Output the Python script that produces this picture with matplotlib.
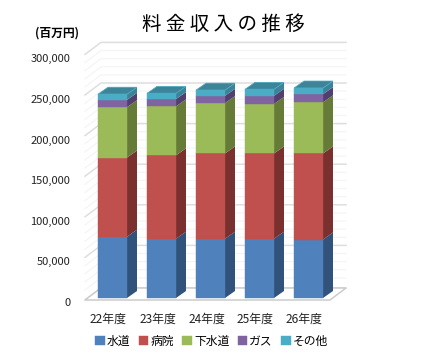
import numpy as np
import matplotlib
matplotlib.use("Agg")
import matplotlib.pyplot as plt
from matplotlib.transforms import ScaledTranslation

plt.rcParams['font.family'] = ['Noto Sans CJK JP', 'DejaVu Sans']

# Values (million yen)
years = ['22年度', '23年度', '24年度', '25年度', '26年度']
water = [75500, 73000, 73000, 73000, 72000]
hospital = [97500, 102700, 105000, 105000, 106000]
sewer = [62000, 60300, 62000, 61000, 63000]
gas = [9000, 9000, 9000, 10000, 10000]
other = [7000, 7000, 7000, 8000, 7600]

series_names = ['水道', '病院', '下水道', 'ガス', 'その他']
series_values = [water, hospital, sewer, gas, other]
front_colors = ['#4F81BD', '#C0504D', '#9BBB59', '#8064A2', '#4BACC6']
side_colors = ['#31527A', '#7A302E', '#667B38', '#533F6F', '#3A8499']
top_color = '#3D8499'

W, H = 448, 364
PX_X = 49.0  # pixels per category
PX_Y = 40.6 / 50000  # pixels per value unit

fig = plt.figure(figsize=(W / 100, H / 100), dpi=100)
ax = fig.add_axes([85 / W, (H - 298) / H, 245 / W, 243.6 / H])
ax.set_xlim(-27.5 / PX_X, 217.5 / PX_X)
ax.set_ylim(0, 300000)
for s in ax.spines.values():
    s.set_visible(False)

# depth of the walls and of the bars, in data units
wall_dx, wall_dy = 16 / PX_X, 12 / PX_Y
bar_dx, bar_dy = 10 / PX_X, 7 / PX_Y
x0, x1 = ax.get_xlim()
floor_y = -2 / PX_Y

# back wall and left wall grid
for v in np.arange(0, 300001, 10000):
    major = v % 50000 == 0
    col = '#dedede' if major else '#f5f5f5'
    lw = 1.1 if major else 0.9
    y = v + (floor_y if v == 0 else 0)
    ax.plot([x0, x0 + wall_dx, x1 + wall_dx], [y, y + wall_dy, y + wall_dy],
            color=col, lw=lw, clip_on=False, zorder=1 if major else 0.9, solid_joinstyle='miter')

# floor
ax.fill([x0, x1, x1 + wall_dx, x0 + wall_dx],
        [floor_y, floor_y, floor_y + wall_dy, floor_y + wall_dy],
        facecolor='white', edgecolor='#cccccc', lw=1.1, clip_on=False, zorder=2)

# stacked bars with side and top faces
width = 29 / PX_X
xs = np.arange(len(years))
bottom = np.zeros(len(years))
handles = []
for vals, name, fc, sc in zip(series_values, series_names, front_colors, side_colors):
    vals = np.array(vals, dtype=float)
    b = ax.bar(xs, vals, width=width, bottom=bottom, color=fc, label=name,
               edgecolor=fc, lw=0.3, zorder=4, clip_on=False)
    handles.append(b)
    for i, x in enumerate(xs):
        r = x + width / 2
        ax.fill([r, r + bar_dx, r + bar_dx, r],
                [bottom[i], bottom[i] + bar_dy, bottom[i] + vals[i] + bar_dy, bottom[i] + vals[i]],
                facecolor=sc, edgecolor='none', zorder=3.5, clip_on=False)
    bottom = bottom + vals

for i, x in enumerate(xs):
    l, r = x - width / 2, x + width / 2
    ax.fill([l, r, r + bar_dx, l + bar_dx],
            [bottom[i], bottom[i], bottom[i] + bar_dy, bottom[i] + bar_dy],
            facecolor=top_color, edgecolor='#4BACC6', lw=0.5, zorder=3.6, clip_on=False)

ax.set_yticks(np.arange(0, 300001, 50000))
ax.set_yticklabels([f'{v:,}' for v in np.arange(0, 300001, 50000)])
ax.set_xticks(xs - 4 / PX_X)
ax.set_xticklabels(years)
ax.tick_params(axis='y', length=0, pad=10.5, labelsize=8, labelcolor='#222222')
ax.tick_params(axis='x', length=0, pad=10.5, labelsize=8.6, labelcolor='#222222')
# the value labels sit a little below their grid level
shift = ScaledTranslation(0, -4 / 100, fig.dpi_scale_trans)
for t in ax.get_yticklabels():
    t.set_transform(t.get_transform() + shift)

fig.text(223.5 / W, 1 - 24 / H, '料 金 収 入 の 推 移', ha='center', va='center',
         fontsize=14, color='black')
fig.text(57.5 / W, 1 - 33 / H, '(百万円)', ha='center', va='center',
         fontsize=8.5, fontweight='bold', color='black')

leg = ax.legend(handles=handles, ncol=5, loc='center', frameon=False,
                bbox_to_anchor=(0.517, -43.5 / 243.6), fontsize=8.5,
                handlelength=0.8, handleheight=0.8, handletextpad=0.2,
                columnspacing=0.7, borderpad=0, borderaxespad=0)

fig.savefig('out.png', dpi=100)
